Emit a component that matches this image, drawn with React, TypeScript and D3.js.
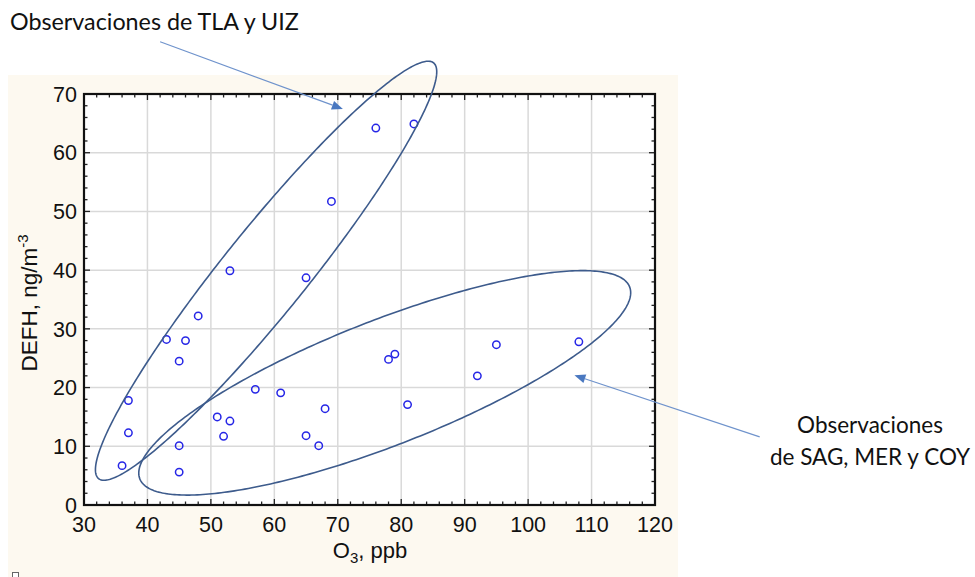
import React from "react";
import * as d3 from "d3";

// ---- data ----
const o3 = [36, 37, 37, 43, 45, 45, 45, 46, 48, 51, 52, 53, 53, 57, 61, 65, 65, 67, 68, 69, 76, 78, 79, 81, 82, 92, 95, 108];
const defh = [6.7, 17.8, 12.3, 28.2, 24.5, 10.1, 5.6, 28.0, 32.2, 15.0, 11.7, 14.3, 39.9, 19.7, 19.1, 38.7, 11.8, 10.1, 16.4, 51.7, 64.2, 24.8, 25.7, 17.1, 64.9, 22.0, 27.3, 27.8];
const xTicks = [30, 40, 50, 60, 70, 80, 90, 100, 110, 120];
const yTicks = [0, 10, 20, 30, 40, 50, 60, 70];
const xMinor = d3.range(30, 121, 2);
const yMinor = d3.range(0, 71, 2);

// annotation ellipses in data units: center + two conjugate half-axis vectors
const ellipseTLA = { cx: 58.7, cy: 39.9, ux: 26.4, uy: 35.4, vx: 5.15, vy: -4.5 };
const ellipseSAG = { cx: 77.4, cy: 20.8, ux: 38.6, uy: 16.35, vx: 3.6, vy: -9.9 };

// annotation arrows in data units
const arrowTLA = { x1: 42.0, y1: 78.9, x2: 70.8, y2: 67.45 };
const arrowSAG = { x1: 136.5, y1: 11.6, x2: 107.3, y2: 22.1 };

const W = 975;
const H = 577;

export default function App() {
  const x = d3.scaleLinear().domain([30, 120]).range([84, 655]);
  const y = d3.scaleLinear().domain([0, 70]).range([505, 94]);
  const [x0, x1] = x.range();
  const [y0, y1] = y.range();

  const ellipsePath = (e: typeof ellipseTLA) => {
    const ts = d3.range(0, 2 * Math.PI + 0.001, (2 * Math.PI) / 360);
    const line = d3
      .line<number>()
      .x((t) => x(e.cx + e.ux * Math.cos(t) + e.vx * Math.sin(t)))
      .y((t) => y(e.cy + e.uy * Math.cos(t) + e.vy * Math.sin(t)))
      .curve(d3.curveLinearClosed);
    return line(ts) || "";
  };

  const arrow = (a: typeof arrowTLA, key: string) => {
    const px1 = x(a.x1), py1 = y(a.y1), px2 = x(a.x2), py2 = y(a.y2);
    const ang = Math.atan2(py2 - py1, px2 - px1);
    const L = 11, hw = 4.5;
    const bx = px2 - L * Math.cos(ang), by = py2 - L * Math.sin(ang);
    const p1 = [bx + hw * Math.sin(ang), by - hw * Math.cos(ang)];
    const p2 = [bx - hw * Math.sin(ang), by + hw * Math.cos(ang)];
    return (
      <g key={key}>
        <line x1={px1} y1={py1} x2={bx} y2={by} stroke="#6f93cc" strokeWidth={1.2} />
        <path d={`M${px2},${py2}L${p1[0]},${p1[1]}L${p2[0]},${p2[1]}Z`} fill="#4a78c0" />
      </g>
    );
  };

  const tickFont = "'Liberation Sans', Arial, sans-serif";
  const noteFont = "Lato, 'Open Sans', sans-serif";

  return (
    <svg width={W} height={H} style={{ position: "absolute", left: 0, top: 0 }} fontFamily={tickFont}>
      <rect x={0} y={0} width={W} height={H} fill="#ffffff" />
      <rect x={8} y={75} width={670} height={502} fill="#fdf9f0" />
      <rect x={x0} y={y1} width={x1 - x0} height={y0 - y1} fill="#ffffff" />

      {/* grid */}
      {xTicks.slice(1, -1).map((t) => (
        <line key={"gx" + t} x1={x(t)} x2={x(t)} y1={y1} y2={y0} stroke="#d9d9d9" strokeWidth={1.5} />
      ))}
      {yTicks.slice(1, -1).map((t) => (
        <line key={"gy" + t} x1={x0} x2={x1} y1={y(t)} y2={y(t)} stroke="#d9d9d9" strokeWidth={1.5} />
      ))}

      {/* minor ticks, inward on all four sides */}
      {xMinor.map((t) => {
        const len = t % 10 === 0 ? 6 : 3.5;
        return (
          <g key={"xm" + t}>
            <line x1={x(t)} x2={x(t)} y1={y0} y2={y0 - len} stroke="#222" strokeWidth={1.3} />
            <line x1={x(t)} x2={x(t)} y1={y1} y2={y1 + len} stroke="#222" strokeWidth={1.3} />
          </g>
        );
      })}
      {yMinor.map((t) => {
        const len = t % 10 === 0 ? 6 : 3.5;
        return (
          <g key={"ym" + t}>
            <line x1={x0} x2={x0 + len} y1={y(t)} y2={y(t)} stroke="#222" strokeWidth={1.3} />
            <line x1={x1} x2={x1 - len} y1={y(t)} y2={y(t)} stroke="#222" strokeWidth={1.3} />
          </g>
        );
      })}

      {/* frame */}
      <rect x={x0} y={y1} width={x1 - x0} height={y0 - y1} fill="none" stroke="#111" strokeWidth={2.2} />

      {/* tick labels */}
      {xTicks.map((t) => (
        <text key={"xl" + t} x={x(t)} y={532} textAnchor="middle" fontSize={21.5} fill="#111">
          {t}
        </text>
      ))}
      {yTicks.map((t) => (
        <text key={"yl" + t} x={77} y={y(t)} dy="0.36em" textAnchor="end" fontSize={21.5} fill="#111">
          {t}
        </text>
      ))}

      {/* axis titles */}
      <text x={370} y={558} textAnchor="middle" fontSize={22} fill="#111">
        O<tspan fontSize={15} dy={5}>3</tspan>
        <tspan dy={-5}>, ppb</tspan>
      </text>
      <text transform={`translate(37,303) rotate(-90)`} textAnchor="middle" fontSize={22.5} fill="#111">
        DEFH, ng/m<tspan fontSize={15} dy={-9}>-3</tspan>
      </text>

      {/* points */}
      {o3.map((v, i) => (
        <circle key={"p" + i} cx={x(v)} cy={y(defh[i])} r={3.7} fill="none" stroke="#2626e6" strokeWidth={1.5} />
      ))}

      {/* ellipses */}
      <path d={ellipsePath(ellipseTLA)} fill="none" stroke="#3d5b8c" strokeWidth={1.6} />
      <path d={ellipsePath(ellipseSAG)} fill="none" stroke="#3d5b8c" strokeWidth={1.6} />

      {/* arrows */}
      {arrow(arrowTLA, "a1")}
      {arrow(arrowSAG, "a2")}

      {/* annotation text */}
      <text x={10} y={30} fontSize={23.3} fontFamily={noteFont} fill="#111">
        Observaciones de TLA y UIZ
      </text>
      <text x={870} y={433} textAnchor="middle" fontSize={22.5} fontFamily={noteFont} fill="#111">
        Observaciones
      </text>
      <text x={870} y={465} textAnchor="middle" fontSize={22.5} fontFamily={noteFont} fill="#111">
        de SAG, MER y COY
      </text>

      {/* small marker at bottom-left */}
      <rect x={12.5} y={572.5} width={6} height={6} fill="#fff" stroke="#666" strokeWidth={1} />
    </svg>
  );
}
